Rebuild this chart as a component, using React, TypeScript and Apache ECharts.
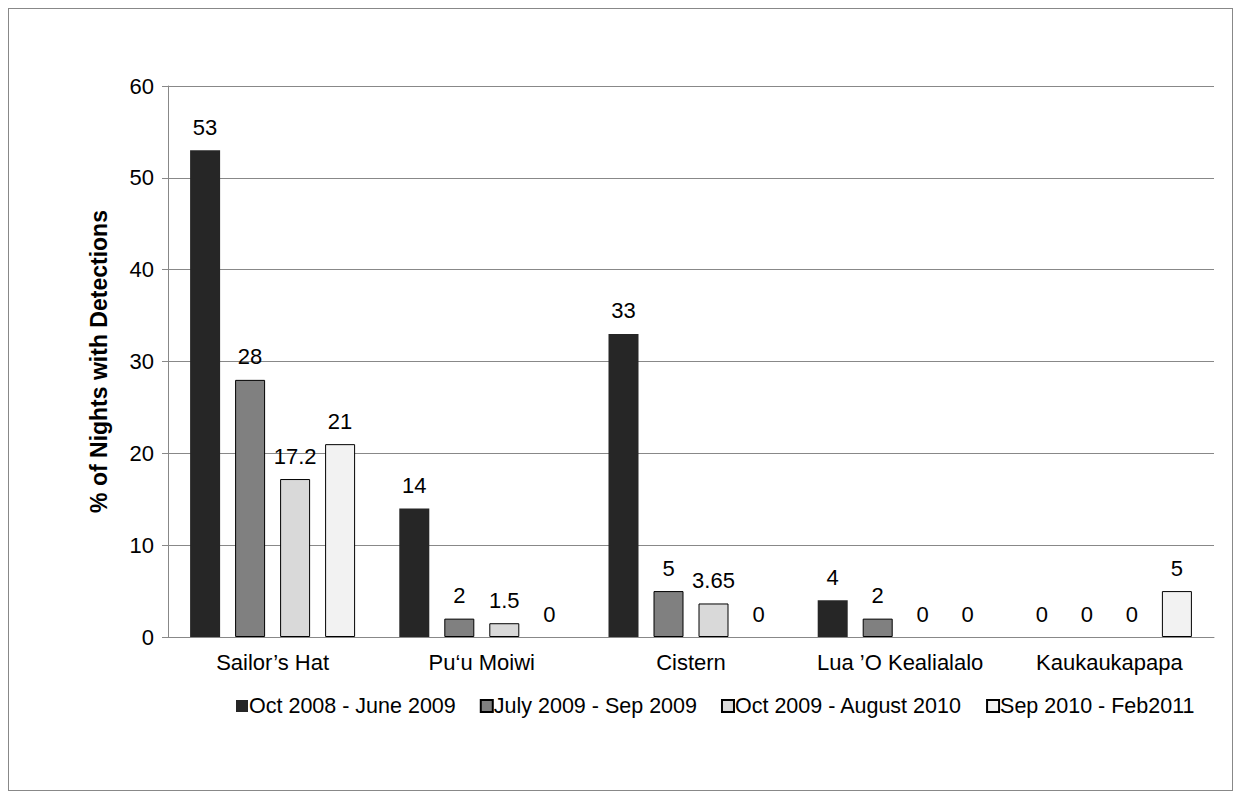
import { useEffect, useRef } from 'react';
import * as echarts from 'echarts';

const categories = ['Sailor\u2019s Hat', 'Pu\u2018u Moiwi', 'Cistern', 'Lua \u2019O Kealialalo', 'Kaukaukapapa'];
const seriesNames = ['Oct 2008 - June 2009', 'July 2009 - Sep 2009', 'Oct 2009 - August 2010', 'Sep 2010 - Feb2011'];
const s1 = [53, 14, 33, 4, 0];
const s2 = [28, 2, 5, 2, 0];
const s3 = [17.2, 1.5, 3.65, 0, 0];
const s4 = [21, 0, 0, 0, 5];
const colors = ['#262626', '#808080', '#d9d9d9', '#f2f2f2'];

export default function App() {
  const ref = useRef<HTMLDivElement>(null);
  useEffect(() => {
    if (!ref.current) return;
    const chart = echarts.init(ref.current, undefined, { renderer: 'svg' });
    const font = { fontFamily: 'Liberation Sans, Arial', fontSize: 22, color: '#000' };
    chart.setOption({
      animation: false,
      textStyle: { fontFamily: 'Liberation Sans, Arial' },
      grid: { left: 159, right: 18, top: 77, bottom: 153 },
      legend: {
        bottom: 68,
        left: 222,
        itemWidth: 12,
        itemHeight: 12,
        itemGap: 24,
        icon: 'rect',
        textStyle: { ...font, fontSize: 21.5, padding: [0, 0, 0, -4] },
        data: seriesNames,
      },
      xAxis: {
        type: 'category',
        data: categories,
        axisLine: { lineStyle: { color: '#888' } },
        axisTick: { lineStyle: { color: '#888' }, length: 6 },
        axisLabel: { ...font, margin: 14, interval: 0 },
      },
      yAxis: {
        type: 'value',
        min: 0,
        max: 60,
        interval: 10,
        name: '% of Nights with Detections',
        nameLocation: 'middle',
        nameGap: 58,
        nameTextStyle: { ...font, fontSize: 23, fontWeight: 'bold' },
        axisLine: { show: true, lineStyle: { color: '#888' } },
        axisTick: { show: true, lineStyle: { color: '#888' }, length: 6 },
        splitLine: { lineStyle: { color: '#888' } },
        axisLabel: { ...font, margin: 14 },
      },
      series: [s1, s2, s3, s4].map((d, i) => ({
        name: seriesNames[i],
        type: 'bar',
        data: d.map((v) => ({ value: v, itemStyle: v === 0 ? { borderWidth: 0 } : undefined })),
        barWidth: 30,
        barGap: '50%',
        itemStyle: { color: colors[i], borderColor: '#000', borderWidth: i === 0 ? 0 : 1 },
        label: { show: true, position: 'top', distance: 12, ...font },
      })),
    });
    return () => chart.dispose();
  }, []);
  return (
    <div style={{ width: 1225, height: 783, border: '1px solid #888', boxSizing: 'border-box', background: '#fff' }}>
      <div ref={ref} style={{ width: '100%', height: '100%' }} />
    </div>
  );
}
